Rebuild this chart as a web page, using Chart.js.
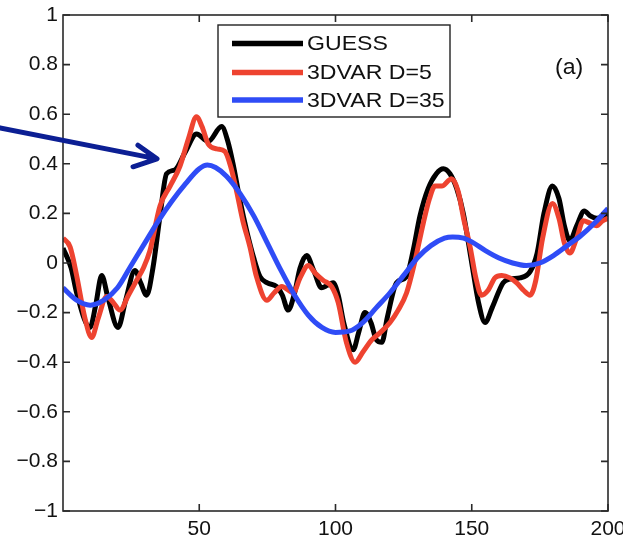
<!DOCTYPE html>
<html>
<head>
<meta charset="utf-8">
<script src="https://cdn.jsdelivr.net/npm/chart.js@4/dist/chart.umd.min.js"></script>
<style>
  html, body { margin: 0; padding: 0; background: #fff; }
  canvas { display: block; }
</style>
</head>
<body>
<canvas id="c" width="623" height="542"></canvas>
<script>
// Series: GUESS and the two 3DVAR analyses
const guessX = [0, 3, 5, 9.9, 12, 14.2, 16.5, 20.2, 23, 26.4, 28.5, 30.7, 33, 35.6, 38, 41, 45, 49, 53.3, 58.2, 60.5, 62.4, 65, 67.4, 70, 72.3, 75, 78.4, 80.5, 82.6, 85, 87, 89.4, 92, 94.9, 97, 99.1, 101, 103, 106.5, 108.5, 110.8, 113, 115, 117, 119, 122.4, 126, 128.5, 131, 134, 137, 139.6, 142, 144.5, 146.9, 150, 152.5, 154.9, 157.5, 161.5, 164, 167.7, 171.4, 174, 176.5, 179.6, 182, 184, 186, 188.5, 191.3, 193.5, 195.8, 198, 200];
const guessY = [0.06, -0.02, -0.12, -0.26, -0.17, -0.05, -0.14, -0.26, -0.15, -0.03, -0.08, -0.13, -0.02, 0.19, 0.36, 0.375, 0.45, 0.52, 0.49, 0.55, 0.49, 0.40, 0.25, 0.13, 0.02, -0.055, -0.08, -0.095, -0.13, -0.19, -0.12, -0.02, 0.03, -0.03, -0.10, -0.09, -0.08, -0.13, -0.24, -0.35, -0.28, -0.20, -0.24, -0.31, -0.32, -0.22, -0.08, -0.055, 0.05, 0.19, 0.30, 0.36, 0.38, 0.36, 0.30, 0.20, 0.00, -0.16, -0.24, -0.18, -0.08, -0.065, -0.06, -0.035, 0.04, 0.20, 0.31, 0.26, 0.15, 0.09, 0.15, 0.21, 0.19, 0.18, 0.185, 0.20];

const d5X = [0, 2.6, 5, 8, 10.5, 13, 16, 18.5, 20.9, 24, 27, 29.5, 31.9, 35.6, 39.3, 42.9, 46, 49, 51, 53.3, 56.4, 59.4, 61.5, 63.7, 66, 68.6, 71, 74.8, 77.5, 80.3, 84.5, 87, 90, 92.5, 95.5, 98.6, 101, 104, 107.2, 110, 113.3, 116.5, 120, 123, 126.1, 129, 132.2, 134.5, 136.5, 139, 142.6, 145, 147, 149.4, 151.5, 153.6, 156, 158.5, 161, 164, 166.5, 169, 171.4, 173.5, 176, 179.6, 182, 184, 186, 188.5, 190.9, 193.5, 195.8, 198, 200];
const d5Y = [0.10, 0.065, -0.05, -0.22, -0.30, -0.22, -0.135, -0.16, -0.19, -0.13, -0.07, -0.02, 0.05, 0.23, 0.31, 0.39, 0.50, 0.59, 0.55, 0.48, 0.46, 0.45, 0.39, 0.29, 0.17, 0.065, -0.055, -0.15, -0.12, -0.095, -0.12, -0.06, -0.01, -0.04, -0.07, -0.095, -0.16, -0.32, -0.40, -0.36, -0.31, -0.28, -0.24, -0.19, -0.12, 0.00, 0.16, 0.26, 0.31, 0.31, 0.34, 0.29, 0.18, 0.065, -0.06, -0.13, -0.11, -0.06, -0.05, -0.06, -0.08, -0.11, -0.13, -0.07, 0.10, 0.24, 0.18, 0.08, 0.04, 0.10, 0.17, 0.16, 0.15, 0.17, 0.18];

const d35X = [0, 5, 10, 15, 20, 25, 30, 35, 40, 45, 50, 53, 56, 60, 65, 70, 75, 80, 85, 90, 95, 100, 105, 110, 115, 120, 125, 130, 135, 140, 143, 147, 150, 155, 160, 165, 170, 175, 180, 185, 190, 195, 200];
const d35Y = [-0.10, -0.15, -0.17, -0.15, -0.10, -0.01, 0.08, 0.17, 0.25, 0.32, 0.38, 0.395, 0.385, 0.35, 0.28, 0.19, 0.08, -0.03, -0.13, -0.21, -0.26, -0.28, -0.275, -0.24, -0.18, -0.12, -0.05, 0.02, 0.07, 0.10, 0.105, 0.10, 0.085, 0.05, 0.02, 0.00, -0.01, 0.00, 0.03, 0.07, 0.11, 0.16, 0.22];

const seriesNames = ['GUESS', '3DVAR D=5', '3DVAR D=35'];
const seriesColors = ['#000000', '#ee4330', '#2f4cf6'];
const xTicks = [50, 100, 150, 200];
const yTicks = [-1, -0.8, -0.6, -0.4, -0.2, 0, 0.2, 0.4, 0.6, 0.8, 1];

// arrow annotation, in data units: tail, tip, two barbs
const arrowPts = [[-23.1, 0.545], [34.5, 0.42], [27.5, 0.475], [25.7, 0.388]];

const toPts = (xs, ys) => xs.map((x, i) => ({ x: x, y: ys[i] }));

Chart.defaults.font.family = '"Liberation Sans", Arial, Helvetica, sans-serif';
Chart.defaults.color = '#111';

const fmt = v => {
    const r = Math.round(v * 10) / 10;
    return (r < 0 ? '\u2212' : '') + String(Math.abs(r));
};

// text drawn a little wider than the font's natural width
function wideText(ctx, str, x, y, sx) {
    ctx.save();
    ctx.translate(x, y);
    ctx.scale(sx, 1);
    ctx.fillText(str, 0, 0);
    ctx.restore();
}

const framePlugin = {
    id: 'frame',
    afterDraw(chart) {
        const ctx = chart.ctx;
        const a = chart.chartArea;
        const xs = chart.scales.x, ys = chart.scales.y;
        const tl = 7;
        ctx.save();
        ctx.strokeStyle = '#2a2a2a';
        ctx.lineWidth = 1.6;
        ctx.strokeRect(a.left, a.top, a.right - a.left, a.bottom - a.top);
        ctx.beginPath();
        xTicks.forEach(v => {
            const px = xs.getPixelForValue(v);
            ctx.moveTo(px, a.bottom); ctx.lineTo(px, a.bottom - tl);
            ctx.moveTo(px, a.top); ctx.lineTo(px, a.top + tl);
        });
        yTicks.forEach(v => {
            const py = ys.getPixelForValue(v);
            ctx.moveTo(a.left, py); ctx.lineTo(a.left + tl, py);
            ctx.moveTo(a.right, py); ctx.lineTo(a.right - tl, py);
        });
        ctx.stroke();

        // legend box
        const lx = 218, ly = 25, lw = 232, lh = 92;
        ctx.fillStyle = '#fff';
        ctx.fillRect(lx, ly, lw, lh);
        ctx.lineWidth = 1.4;
        ctx.strokeStyle = '#222';
        ctx.strokeRect(lx, ly, lw, lh);
        const rows = [43.5, 72.5, 100];
        ctx.font = '21px "Liberation Sans", Arial, sans-serif';
        ctx.textBaseline = 'middle';
        ctx.textAlign = 'left';
        seriesNames.forEach((name, i) => {
            ctx.strokeStyle = seriesColors[i];
            ctx.lineWidth = 5.5;
            ctx.beginPath();
            ctx.moveTo(232, rows[i]); ctx.lineTo(303, rows[i]);
            ctx.stroke();
            ctx.fillStyle = '#111';
            wideText(ctx, name, 307, rows[i] + 1, 1.1);
        });

        // panel tag
        ctx.font = '22px "Liberation Sans", Arial, sans-serif';
        wideText(ctx, '(a)', 555, 68, 1.05);

        // arrow
        const p = arrowPts.map(([x, y]) => [xs.getPixelForValue(x), ys.getPixelForValue(y)]);
        ctx.strokeStyle = '#0c1f94';
        ctx.lineWidth = 5;
        ctx.lineCap = 'round';
        ctx.lineJoin = 'round';
        ctx.beginPath();
        ctx.moveTo(p[0][0], p[0][1]); ctx.lineTo(p[1][0], p[1][1]);
        ctx.moveTo(p[2][0], p[2][1]); ctx.lineTo(p[1][0], p[1][1]); ctx.lineTo(p[3][0], p[3][1]);
        ctx.stroke();
        ctx.restore();
    }
};

new Chart(document.getElementById('c'), {
    type: 'line',
    data: {
        datasets: [
            { label: seriesNames[0], data: toPts(guessX, guessY), borderColor: seriesColors[0], order: 3 },
            { label: seriesNames[1], data: toPts(d5X, d5Y), borderColor: seriesColors[1], order: 2 },
            { label: seriesNames[2], data: toPts(d35X, d35Y), borderColor: seriesColors[2], order: 1 }
        ]
    },
    options: {
        responsive: false,
        animation: false,
        layout: { padding: { top: 15, right: 15, left: 0, bottom: 0 } },
        elements: {
            line: { borderWidth: 5, cubicInterpolationMode: 'monotone', fill: false },
            point: { radius: 0 }
        },
        scales: {
            x: {
                type: 'linear', min: 0, max: 200,
                grid: { display: false, drawTicks: false },
                border: { display: false },
                afterBuildTicks: s => { s.ticks = xTicks.map(v => ({ value: v })); },
                afterFit: s => { s.height = 31; s.paddingLeft = 0; s.paddingRight = 0; },
                ticks: { padding: 6, maxRotation: 0, font: { size: 21 } }
            },
            y: {
                type: 'linear', min: -1, max: 1,
                grid: { display: false, drawTicks: false },
                border: { display: false },
                afterBuildTicks: s => { s.ticks = yTicks.map(v => ({ value: v })); },
                afterFit: s => { s.width = 63; s.paddingTop = 0; s.paddingBottom = 0; },
                ticks: { padding: 5, font: { size: 21 }, callback: v => fmt(v) }
            }
        },
        plugins: {
            legend: { display: false },
            tooltip: { enabled: false }
        }
    },
    plugins: [framePlugin]
});
</script>
</body>
</html>
